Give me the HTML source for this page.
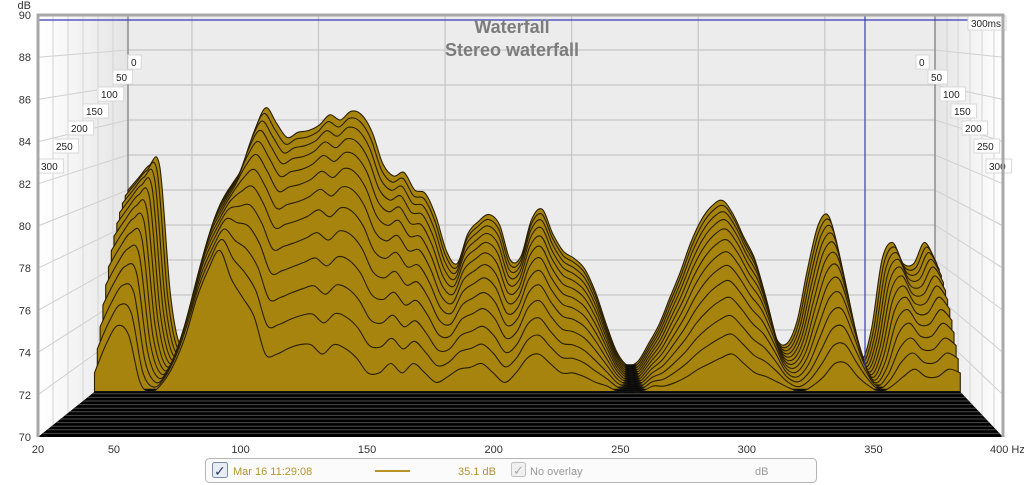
<!DOCTYPE html>
<html><head><meta charset="utf-8"><title>Waterfall</title>
<style>
body{margin:0;background:#fff;width:1024px;height:485px;overflow:hidden;font-family:"Liberation Sans",sans-serif}
svg{display:block}
text{font-family:"Liberation Sans",sans-serif}
</style></head>
<body>
<svg id="chart" width="1024" height="485" viewBox="0 0 1024 485" xmlns="http://www.w3.org/2000/svg">
<defs>
<linearGradient id="lw" x1="0" x2="1" y1="0" y2="0"><stop offset="0" stop-color="#ffffff"/><stop offset="1" stop-color="#e4e4e4"/></linearGradient>
<linearGradient id="rw" x1="0" x2="1" y1="0" y2="0"><stop offset="0" stop-color="#e4e4e4"/><stop offset="1" stop-color="#ffffff"/></linearGradient>
<clipPath id="plotClip"><rect x="38" y="15" width="965" height="422"/></clipPath>
</defs>
<g id="walls"></g>
<g id="floor"></g>
<g id="slices" clip-path="url(#plotClip)"></g>
<g id="overlay"></g>
<g id="axes"></g>
</svg>
<script>
const freqs=[20,25,30,35,40,45,50,55,60,65,70,75,80,85,90,95,100,105,110,115,120,125,130,135,140,145,150,155,160,165,170,175,180,185,190,195,200,205,210,215,220,225,230,235,240,245,250,255,260,265,270,275,280,285,290,295,300,305,310,315,320,325,330,335,340,345,350,355,360,365,370,375,380,385,390,395,400];
const baseDb=[80,80.7,81.4,81.3,74,71,72,74.5,77.5,79.5,80.5,81.5,83.5,84.7,83.8,83,83.3,83.4,83.7,84.3,84,84.5,84.3,83.3,81.5,80.8,81,80,79.8,78.5,76.5,75.8,77.5,78.2,78.6,78,76,76.2,78.3,78.9,77.5,76.5,76.1,75.5,74.2,72.4,70.8,70,70.2,71.2,72.3,73.8,75.3,77,78.3,79.1,79.4,78.6,77.3,76.1,74,71.6,71.2,72.5,75.5,78,78.5,76,72.5,70.3,72,76,77,75.8,75.8,77,76];
const endDb=[71,72.5,73.5,73,70.5,70,70.5,71.5,73,75,76.5,77.5,76,75,74,72,72,72.3,72.5,72.5,72,72.5,72.3,71.8,71,71,71.5,71,71.5,71,70.5,70.8,71.2,71.3,71.5,71,70.5,71,71.8,72,71.5,71,71,70.8,70.5,70.3,70,70,70,70.3,70.3,70.5,70.8,71.2,71.5,71.8,72,71.5,71,70.8,70.5,70.2,70,70.3,70.8,71.5,71.5,70.8,70.3,70,70.3,70.8,71.2,70.8,70.8,71.2,71];
const decayProfile=[0,0.03,0.07,0.12,0.18,0.25,0.33,0.42,0.52,0.63,0.75,0.87,1];
const dbTicks=[70,72,74,76,78,80,82,84,86,88,90];
const freqTicks=[20,50,100,150,200,250,300,350,400];
const timeLabels=["0","50","100","150","200","250","300"];

const NS="http://www.w3.org/2000/svg";
function mk(tag,attrs,parent){const e=document.createElementNS(NS,tag);for(const k in attrs)e.setAttribute(k,attrs[k]);parent.appendChild(e);return e;}
const SLICE_DT=0.031;
function fx(f){return 38+(f-20)*(962/380);}
function sx(f,t){const xl=128-90*t,xr=935+68*t;return xl+(f-20)*(xr-xl)/380;}
function sy(v,t){return (365+72*t)-(v-70)*(17.5+3.6*t);}
function frontY(d){return 15+(90-d)*21.1;}
function backY(d){return 15+(90-d)*17.5;}

const walls=document.getElementById('walls');
let e=mk('rect',{x:128,y:15,width:807,height:350,fill:'#ececec'},walls);


e=mk('polygon',{points:'38,15 128,15 128,365 38,437',fill:'url(#lw)'},walls);


e=mk('polygon',{points:'935,15 1003,15 1003,437 935,365',fill:'url(#rw)'},walls);


dbTicks.forEach(d=>{
  if(d===90||d===70)return;
  const yb=backY(d),yf=frontY(d);
  e=mk('line',{x1:128,y1:yb,x2:935,y2:yb,stroke:'#c6c6c6','stroke-width':1.2},walls);
  
  
  e=mk('line',{x1:38,y1:yf,x2:128,y2:yb,stroke:'#d0d0d0','stroke-width':1},walls);
  
  
  e=mk('line',{x1:935,y1:yb,x2:1003,y2:yf,stroke:'#d0d0d0','stroke-width':1},walls);
  
  
});
freqTicks.forEach(f=>{
  const x=fx(f)+78;
  if(f===20||x>930)return;
  e=mk('line',{x1:x,y1:15,x2:x,y2:365,stroke:'#c6c6c6','stroke-width':1.2},walls);
  
  
});
[53,68,83,98,113].forEach((x,i)=>{
  const yb=365+72*(128-x)/90;
  e=mk('line',{x1:x,y1:15,x2:x,y2:yb,stroke:'#d4d4d4','stroke-width':1},walls);
  
  
});
[947,958,970,982,994].forEach(x=>{
  const yb=365+72*(x-935)/68;
  e=mk('line',{x1:x,y1:15,x2:x,y2:yb,stroke:'#d4d4d4','stroke-width':1},walls);
  
  
});
e=mk('line',{x1:128,y1:15,x2:128,y2:365,stroke:'#8c8c8c','stroke-width':1.5},walls);


e=mk('line',{x1:935,y1:15,x2:935,y2:365,stroke:'#8c8c8c','stroke-width':1.5},walls);



const floor=document.getElementById('floor');
e=mk('polygon',{points:'128,365 935,365 1003,437 38,437',fill:'#000'},floor);


for(let t=0.4;t<0.99;t+=0.05){
  const y=365+72*t;
  e=mk('line',{x1:38+90*(1-t),y1:y,x2:935+68*t,y2:y,stroke:'#4a4a4a','stroke-width':1},floor);
  
  
}

function smoothPath(pts){
  let d='M'+pts[0][0].toFixed(1)+','+pts[0][1].toFixed(1);
  for(let i=0;i<pts.length-1;i++){
    const p0=pts[i-1]||pts[i],p1=pts[i],p2=pts[i+1],p3=pts[i+2]||p2;
    const c1x=p1[0]+(p2[0]-p0[0])/6,c1y=p1[1]+(p2[1]-p0[1])/6;
    const c2x=p2[0]-(p3[0]-p1[0])/6,c2y=p2[1]-(p3[1]-p1[1])/6;
    d+='C'+c1x.toFixed(1)+','+c1y.toFixed(1)+' '+c2x.toFixed(1)+','+c2y.toFixed(1)+' '+p2[0].toFixed(1)+','+p2[1].toFixed(1);
  }
  return d;
}
const slices=document.getElementById('slices');
decayProfile.forEach((p,k)=>{
  const t=k*SLICE_DT;
  const pts=freqs.map((f,i)=>{
    let v=baseDb[i]-(baseDb[i]-endDb[i])*p;
    if(v<70)v=70;
    return [sx(f,t),sy(v,t)];
  });
  const y0=sy(70,t);
  const top=smoothPath(pts);
  const d=top+'L'+pts[pts.length-1][0].toFixed(1)+','+y0.toFixed(1)+'L'+pts[0][0].toFixed(1)+','+y0.toFixed(1)+'Z';
  const s=mk('path',{d:d,fill:'#a6840d',stroke:'#2a1f00','stroke-width':1.1,'stroke-linejoin':'round'},slices);
  
  
  const b=mk('line',{x1:pts[0][0],y1:y0,x2:pts[pts.length-1][0],y2:y0,stroke:'#111','stroke-width':1.5},slices);
  
  
});

const ov=document.getElementById('overlay');
e=mk('line',{x1:38,y1:20,x2:1003,y2:20,stroke:'#3a3ab8','stroke-width':1.2},ov);


e=mk('line',{x1:865,y1:15,x2:865,y2:367,stroke:'#3a3ab8','stroke-width':1.2},ov);


e=mk('text',{x:512,y:33,'text-anchor':'middle','font-size':18,'font-weight':'bold',fill:'#7c7c7c'},ov);
e.textContent='Waterfall';


e=mk('text',{x:512,y:56,'text-anchor':'middle','font-size':18,'font-weight':'bold',fill:'#7c7c7c'},ov);
e.textContent='Stereo waterfall';



const leftPos=[[128,55],[113,70],[98,87],[83,104],[68,121],[53,139],[38,159]];
const rightPos=[[916,55],[928,70],[940,87],[951,104],[962,121],[974,139],[986,159]];
function tlabel(x,y,txt,name){
  const w=txt.length*6.2+7;
  const g=mk('g',{},ov);
  
  
  mk('rect',{x:x,y:y,width:w,height:14,fill:'#fff',stroke:'#d8d8d8','stroke-width':1},g);
  const tx=mk('text',{x:x+3,y:y+11,'font-size':10,fill:'#222'},g);
  tx.textContent=txt;
}
timeLabels.forEach((l,i)=>{tlabel(leftPos[i][0],leftPos[i][1],l,'left-time-label');tlabel(rightPos[i][0],rightPos[i][1],l,'right-time-label');});
tlabel(968,16,'300ms','time-range-label');

const ax=document.getElementById('axes');
e=mk('path',{d:'M38,437 L38,15 L1003,15 L1003,437',fill:'none',stroke:'#a8a8a8','stroke-width':3},ax);


dbTicks.forEach(d=>{
  const t=mk('text',{x:31,y:frontY(d)+4,'text-anchor':'end','font-size':11,fill:'#333'},ax);
  t.textContent=String(d);
  
  
});
e=mk('text',{x:31,y:9,'text-anchor':'end','font-size':11,fill:'#333'},ax);
e.textContent='dB';


freqTicks.forEach(f=>{
  const t=mk('text',{x:fx(f),y:453,'text-anchor':'middle','font-size':11,fill:'#333'},ax);
  t.textContent=f===400?'400 Hz':String(f);
  if(f===400){t.setAttribute('text-anchor','start');t.setAttribute('x',fx(f)-10);}
  
  
});

const lg=mk('g',{},ax);


mk('rect',{x:205.5,y:458.5,width:611,height:24,rx:4,fill:'#fbfbfb',stroke:'#b4b4b4'},lg);
e=mk('rect',{x:212.5,y:462.5,width:15,height:15,rx:2,fill:'#e8ecf4',stroke:'#7a8aa8'},lg);


e=mk('text',{x:214,y:476,'font-size':14,fill:'#334466'},lg);e.textContent='✓';


e=mk('text',{x:233,y:475,'font-size':11,fill:'#b39434'},lg);e.textContent='Mar 16 11:29:08';


e=mk('line',{x1:375,y1:471,x2:410,y2:471,stroke:'#b89428','stroke-width':2},lg);


e=mk('text',{x:458,y:475,'font-size':11,fill:'#b39434'},lg);e.textContent='35.1 dB';


e=mk('rect',{x:511.5,y:462.5,width:14,height:14,rx:2,fill:'#f0f0f0',stroke:'#c0c0c0'},lg);


e=mk('text',{x:513,y:475,'font-size':13,fill:'#aaa'},lg);e.textContent='✓';


e=mk('text',{x:530,y:475,'font-size':11,fill:'#999'},lg);e.textContent='No overlay';


e=mk('text',{x:755,y:475,'font-size':11,fill:'#999'},lg);e.textContent='dB';


</script>
</body></html>
